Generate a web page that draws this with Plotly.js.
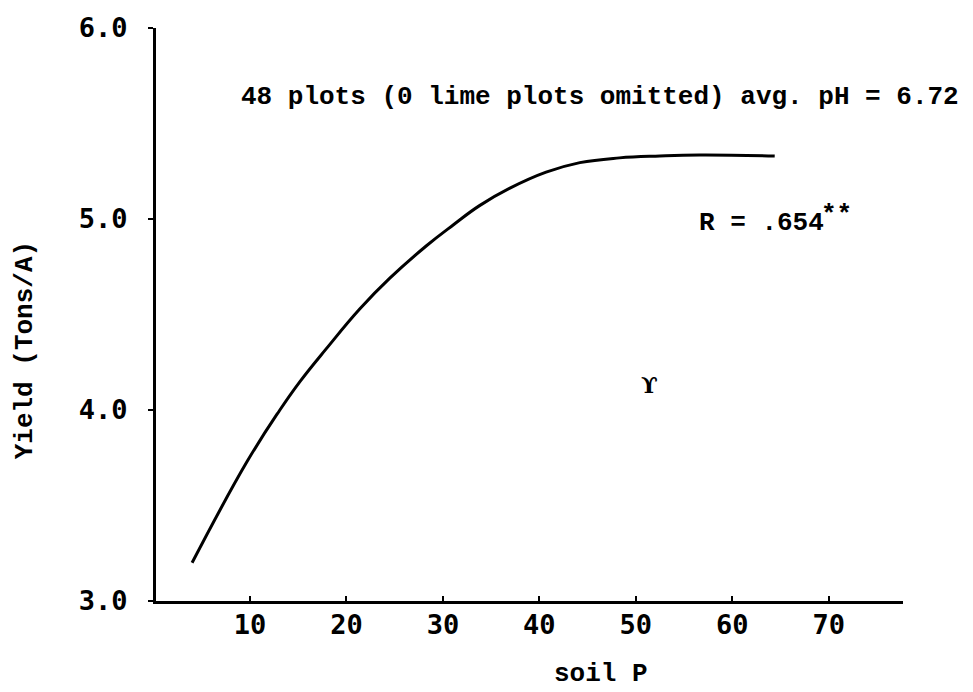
<!DOCTYPE html>
<html>
<head>
<meta charset="utf-8">
<script src="https://cdn.plot.ly/plotly-3.0.1.min.js"></script>
<style>html,body{margin:0;padding:0;background:#fff;}#chart{width:973px;height:692px;}</style>
</head>
<body>
<div id="chart"></div>
<script>
// Fitted yield curve
var soilP = [4.0, 9.7, 13.1, 15.2, 17.9, 21.4, 24.5, 28.3, 31.1, 33.8, 36.9, 40.7, 44.2, 48.3, 52.5, 56.6, 64.4];
var yieldTons = [3.20, 3.73, 4.00, 4.15, 4.32, 4.53, 4.69, 4.86, 4.97, 5.07, 5.16, 5.245, 5.295, 5.32, 5.33, 5.335, 5.33];
var xTicks = [10, 20, 30, 40, 50, 60, 70];
var yTicks = [3.0, 4.0, 5.0, 6.0];
var yTickText = ["3.0", "4.0", "5.0", "6.0"];
var noteText = "48 plots (0 lime plots omitted) avg. pH = 6.72";
var rText = "R = .654";
var rStars = "**";
var xTitle = "soil P";
var yTitle = "Yield (Tons/A)";

var mono = "Liberation Mono, Courier New, monospace";
var tickFont = {family: "DejaVu Sans Mono, monospace", size: 27, color: "#000", weight: "bold"};

var trace = {
  x: soilP, y: yieldTons, type: "scatter", mode: "lines",
  line: {color: "#000", width: 3, shape: "spline", smoothing: 1.2},
  hoverinfo: "skip", showlegend: false
};

var layout = {
  width: 973, height: 692,
  margin: {l: 156, r: 70, t: 28, b: 91},
  paper_bgcolor: "#fff", plot_bgcolor: "#fff",
  showlegend: false,
  xaxis: {
    range: [0.26, 77.7], tickvals: xTicks, ticktext: xTicks.map(String),
    showgrid: false, zeroline: false, showline: true, linecolor: "#000", linewidth: 2.5,
    ticks: "inside", ticklen: 5, tickwidth: 2, tickcolor: "#000",
    tickfont: tickFont, ticklabelstandoff: -2
  },
  yaxis: {
    range: [3.0, 6.0], tickvals: yTicks, ticktext: yTickText,
    showgrid: false, zeroline: false, showline: true, linecolor: "#000", linewidth: 3,
    ticks: "outside", ticklen: 5, tickwidth: 2, tickcolor: "#000",
    tickfont: tickFont, ticklabelstandoff: 15
  },
  annotations: [
    {text: noteText, xref: "x", yref: "y", x: 46.3, y: 5.64, xanchor: "center", yanchor: "middle",
     showarrow: false, font: {family: mono, size: 26, color: "#000", weight: "bold"}},
    {text: rText, xref: "x", yref: "y", x: 56.3, y: 4.98, xanchor: "left", yanchor: "middle",
     showarrow: false, font: {family: mono, size: 26, color: "#000", weight: "bold"}},
    {text: rStars, xref: "x", yref: "y", x: 69.0, y: 5.02, xanchor: "left", yanchor: "middle",
     showarrow: false, font: {family: mono, size: 26, color: "#000", weight: "bold"}},
    {text: "ϒ", xref: "x", yref: "y", x: 51.4, y: 4.13, xanchor: "center", yanchor: "middle",
     showarrow: false, font: {family: "DejaVu Serif, serif", size: 22, color: "#000", weight: "bold"}},
    {text: xTitle, xref: "paper", yref: "paper", x: 0.596, y: -0.128, xanchor: "center", yanchor: "middle",
     showarrow: false, font: {family: mono, size: 26, color: "#000", weight: "bold"}},
    {text: yTitle, xref: "paper", yref: "paper", x: -0.175, y: 0.438, xanchor: "center", yanchor: "middle",
     textangle: -90, showarrow: false, font: {family: mono, size: 26, color: "#000", weight: "bold"}}
  ]
};

Plotly.newPlot("chart", [trace], layout, {staticPlot: true, displayModeBar: false});
</script>
</body>
</html>
